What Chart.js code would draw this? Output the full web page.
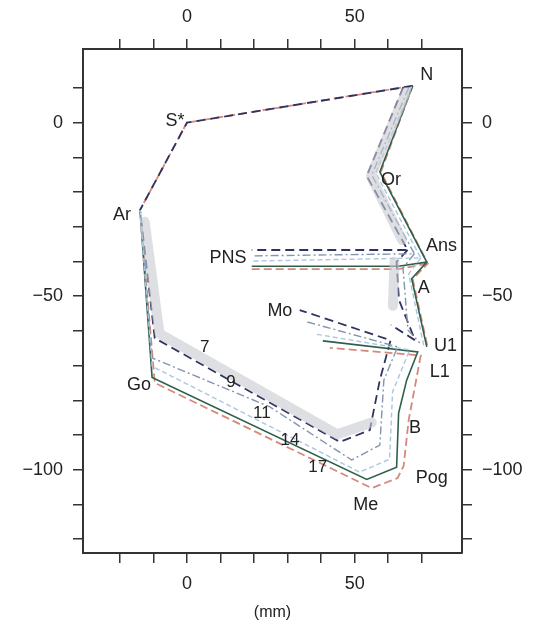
<!DOCTYPE html>
<html>
<head>
<meta charset="utf-8">
<script src="https://cdn.jsdelivr.net/npm/chart.js@4.4.1/dist/chart.umd.min.js"></script>
<style>
  html, body { margin: 0; padding: 0; background: #fff; }
  #wrap { width: 536px; height: 629px; }
</style>
</head>
<body>
<div id="wrap"><canvas id="ceph" width="536" height="629"></canvas></div>
<script>
// tracings per age (mm), null = pen up
var age7X  = [67.3, 0, -14.0, -9.6, 45.6, 54.5, 57.5, 60.7, 33.6, null, 64.5, 53.6, 65.8, 19.3, null, 65.8, 62.5, 63.2, 68.0, 60.8];
var age7Y  = [10.6, 0, -25.2, -62.1, -92.0, -88.6, -74.2, -62.7, -54.0, null, 10.2, -15.4, -36.7, -36.7, null, -36.7, -40.1, -51.1, -62.7, -58.3];

var age9X  = [-14.0, -10.4, 24.7, 49.1, 57.5, 58.7, 62.8, 35.7, null, 66.1, 55.1, 67.8, 19.3, null, 67.8, 64.4, 65.9, 69.4];
var age9Y  = [-25.2, -67.8, -81.9, -97.2, -92.9, -74.2, -64.6, -57.4, null, 10.0, -15.1, -37.8, -38.4, null, -37.8, -41.9, -59.8, -63.5];

var age11X = [-14.0, -10.4, 51.5, 60.4, 61.3, 66.4, 38.1, null, 67.0, 56.3, 69.7, 19.3, null, 69.7, 66.1, 70.6];
var age11Y = [-25.2, -70.2, -100.7, -97.0, -77.6, -65.5, -60.9, null, 10.4, -14.5, -39.0, -39.9, null, -39.0, -43.6, -64.3];

var age14X = [-14.0, -10.4, 53.6, 62.5, 63.1, 65.5, 68.8, 40.5, null, 67.3, 57.5, 71.5, 67.0, 71.5, null, 19.3, 63.0, 71.5];
var age14Y = [-25.2, -73.4, -102.8, -99.3, -83.7, -74.2, -66.1, -62.9, null, 10.6, -14.2, -40.2, -45.0, -64.6, null, -41.4, -41.4, -40.2];

var age17X = [67.3, 0, -14.0, -9.6, 55.1, 62.8, 64.6, 66.1, 69.7, 42.6, null, 67.3, 57.8, 71.8, 67.3, 71.8, null, 19.3, 63.0, 71.8];
var age17Y = [10.6, 0, -25.2, -75.0, -105.3, -102.4, -98.9, -85.7, -67.1, -64.9, null, 10.6, -14.2, -40.6, -45.1, -64.9, null, -42.2, -42.2, -40.6];

// grey spread band along the youngest outline
var bandX = [-12.6, -8.2, 44.8, 55.1, null, 65.3, 54.8, 64.1, null, 61.9, 61.4];
var bandY = [-28.6, -60.8, -89.8, -86.4, null, 8.8, -15.4, -33.8, null, -40.1, -52.8];

var landmarkNames = ['N', 'S*', 'Or', 'Ar', 'PNS', 'Ans', 'A', 'Mo', 'U1', 'L1', 'Go', 'B', 'Pog', 'Me'];
var landmarkX = [71.5, -3.6, 60.8, -19.4, 12.2, 75.9, 70.6, 27.7, 77.1, 75.4, -14.3, 68.0, 73.0, 53.3];
var landmarkY = [13.7, 0.5, -16.5, -26.6, -39.0, -35.5, -47.6, -54.3, -64.3, -71.8, -75.6, -88.0, -102.4, -110.2];

var ageNames = ['7', '9', '11', '14', '17'];
var ageLabelX = [5.3, 13.1, 22.3, 30.7, 39.0];
var ageLabelY = [-64.6, -74.7, -83.7, -91.4, -99.2];

var xTicks = [-20, -10, 0, 10, 20, 30, 40, 50, 60, 70];
var yTicks = [10, 0, -10, -20, -30, -40, -50, -60, -70, -80, -90, -100, -110, -120];

function toPoints(xs, ys) {
  var pts = [];
  for (var i = 0; i < xs.length; i++) {
    pts.push({x: xs[i], y: ys[i]});
  }
  return pts;
}

function tickLabel(v) {
  if (v % 50 !== 0) return '';
  return v < 0 ? '\u2212' + Math.abs(v) : String(v);
}

function fixTicks(vals) {
  return function(scale) {
    scale.ticks = vals.map(function(v) { return {value: v}; });
  };
}

var FONT = '"Liberation Sans", Arial, sans-serif';

function axis(pos, vals, min, max, size) {
  return {
    type: 'linear',
    position: pos,
    min: min,
    max: max,
    afterBuildTicks: fixTicks(vals),
    afterFit: function(scale) {
      if (pos == 'left' || pos == 'right') scale.width = size;
      else scale.height = size;
    },
    grid: { drawOnChartArea: false, drawTicks: true, tickLength: 10, color: '#333', lineWidth: 1.5 },
    border: { display: true, color: '#333', width: 2 },
    ticks: { callback: tickLabel, color: '#222', font: { size: 18, family: FONT }, padding: 10, autoSkip: false, maxRotation: 0 }
  };
}

var labelPlugin = {
  id: 'landmarks',
  afterDatasetsDraw: function(chart) {
    var ctx = chart.ctx;
    var xs = chart.scales.x, ys = chart.scales.y;
    ctx.save();
    ctx.fillStyle = '#222';
    ctx.textAlign = 'center';
    ctx.textBaseline = 'middle';
    ctx.font = '18px ' + FONT;
    for (var i = 0; i < landmarkNames.length; i++) {
      ctx.fillText(landmarkNames[i], xs.getPixelForValue(landmarkX[i]), ys.getPixelForValue(landmarkY[i]));
    }
    ctx.font = '17px ' + FONT;
    for (var j = 0; j < ageNames.length; j++) {
      ctx.fillText(ageNames[j], xs.getPixelForValue(ageLabelX[j]), ys.getPixelForValue(ageLabelY[j]));
    }
    ctx.restore();
  }
};

var xBottom = axis('bottom', xTicks, -31, 82, 76);
xBottom.title = { display: true, text: '(mm)', color: '#222', font: { size: 16, family: FONT }, padding: { top: 0, bottom: 7 } };
var xTop = axis('top', xTicks, -31, 82, 49);
xTop.ticks.padding = 11;
var yLeft = axis('left', yTicks, -124, 21.2, 83);
var yRight = axis('right', yTicks, -124, 21.2, 74);

new Chart(document.getElementById('ceph'), {
  type: 'scatter',
  data: {
    datasets: [
      { label: 'band', data: toPoints(bandX, bandY), showLine: true, pointRadius: 0, borderColor: 'rgba(200,202,208,0.6)', borderWidth: 10, borderJoinStyle: 'round', borderCapStyle: 'round' },
      { label: '11', data: toPoints(age11X, age11Y), showLine: true, pointRadius: 0, borderColor: '#a9c7dd', borderWidth: 1.4, borderDash: [5, 3] },
      { label: '9', data: toPoints(age9X, age9Y), showLine: true, pointRadius: 0, borderColor: '#8594ad', borderWidth: 1.4, borderDash: [8, 3, 2, 3] },
      { label: '7', data: toPoints(age7X, age7Y), showLine: true, pointRadius: 0, borderColor: '#2f3360', borderWidth: 1.8, borderDash: [9, 5] },
      { label: '14', data: toPoints(age14X, age14Y), showLine: true, pointRadius: 0, borderColor: '#2e5f4b', borderWidth: 1.6 },
      { label: '17', data: toPoints(age17X, age17Y), showLine: true, pointRadius: 0, borderColor: '#d8887a', borderWidth: 1.8, borderDash: [8, 4] }
    ]
  },
  options: {
    responsive: false,
    animation: false,
    layout: { padding: 0 },
    plugins: { legend: { display: false }, tooltip: { enabled: false } },
    scales: { x: xBottom, x2: xTop, y: yLeft, y2: yRight }
  },
  plugins: [labelPlugin]
});
</script>
</body>
</html>
